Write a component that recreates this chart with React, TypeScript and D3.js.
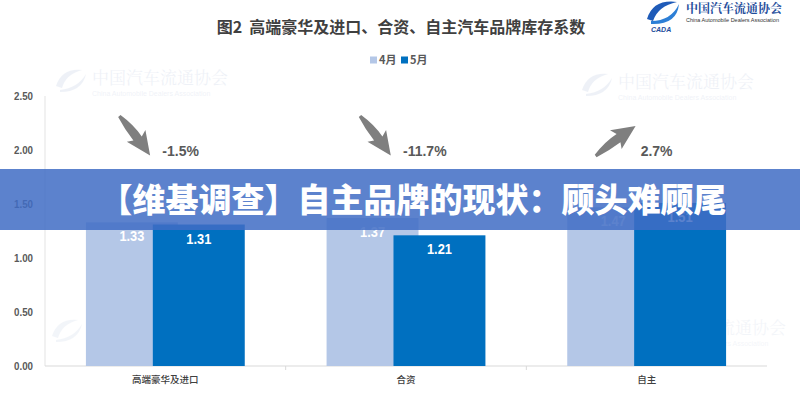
import React from "react";
import * as d3 from "d3";

const categories = ["高端豪华及进口", "合资", "自主"];
const seriesNames = ["4月", "5月"];
const april = [1.33, 1.37, 1.47];
const may = [1.31, 1.21, 1.51];
const changes = ["-1.5%", "-11.7%", "2.7%"];
const yTicks = [0, 0.5, 1, 1.5, 2, 2.5];

const W = 800;
const H = 400;
const colors = ["#b4c7e7", "#0070c0"];
const numFont = "'Liberation Sans Narrow', 'Liberation Sans', Arial, sans-serif";
const cjkFont = "'Noto Sans CJK SC', 'Noto Sans', sans-serif";

// arrow shape pointing along +x, length ~50
const arrowPath =
  "M0,-1.5 Q16,-6 30,-5 L27,-12 L50,0 L25,10 L28,4 Q14,4 0,1.5 Z";

function Watermark({ x, y, op = 0.07 }: { x: number; y: number; op?: number }) {
  return (
    <g transform={`translate(${x},${y})`} opacity={op}>
      <path d="M4,18 Q10,0 30,2 Q14,6 10,20 Z" fill="#1f4e9c" />
      <path d="M8,22 Q26,20 34,6 Q30,24 8,24 Z" fill="#1f4e9c" />
      <text x={40} y={16} fontFamily="'Noto Serif CJK SC', serif" fontSize={17} fill="#1f4e9c">
        中国汽车流通协会
      </text>
      <text x={40} y={28} fontFamily="Arial, sans-serif" fontSize={7} fill="#1f4e9c">
        China Automobile Dealers Association
      </text>
    </g>
  );
}

export default function App() {
  const margin = { left: 45, right: 33, top: 96, bottom: 34 };
  const x = d3
    .scaleBand<string>()
    .domain(categories)
    .range([margin.left, W - margin.right])
    .padding(0);
  const y = d3.scaleLinear().domain([0, 2.5]).range([H - margin.bottom, margin.top]);

  const bw = x.bandwidth() * 0.382;
  const off = x.bandwidth() * 0.139;
  const series = [april, may];

  return (
    <div style={{ position: "fixed", left: 0, top: 0, width: W, height: H, background: "#fff" }}>
      <svg width={W} height={H} viewBox={`0 0 ${W} ${H}`} style={{ display: "block" }}>
        <rect width={W} height={H} fill="#fff" />

        {/* faint watermarks */}
        <Watermark x={52} y={68} />
        <Watermark x={578} y={72} />
        <Watermark x={48} y={318} op={0.05} />
        <Watermark x={610} y={318} op={0.05} />

        {/* top-right logo */}
        <g transform="translate(645,1)">
          <path d="M2,18 Q8,-2 32,1 Q13,5 8,20 Z" fill="#1f5bb8" />
          <path d="M6,20 Q26,20 34,3 Q32,24 6,23 Z" fill="#2d7fd6" />
          <text x={6} y={31} fontFamily="Arial" fontStyle="italic" fontWeight={700} fontSize={7} fill="#1f4e9c">
            CADA
          </text>
          <text x={41} y={12} fontFamily="'Noto Serif CJK SC', serif" fontWeight={700} fontSize={12} fill="#1f4e9c">
            中国汽车流通协会
          </text>
          <text x={41} y={21} fontFamily="Arial" fontSize={5.5} fill="#333">
            China Automobile Dealers Association
          </text>
        </g>

        {/* title */}
        <text x={401} y={33} textAnchor="middle" fontFamily={cjkFont} fontWeight={700} fontSize={16} fill="#404040" style={{ whiteSpace: "pre" }}>
          {"图2  高端豪华及进口、合资、自主汽车品牌库存系数"}
        </text>

        {/* legend */}
        {seriesNames.map((s, i) => (
          <g key={s} transform={`translate(${370 + i * 31},60)`}>
            <rect x={0} y={-3.5} width={7} height={7} fill={colors[i]} />
            <text x={9} y={4} fontFamily={cjkFont} fontWeight={700} fontSize={11} fill="#595959">
              {s}
            </text>
          </g>
        ))}

        {/* axes */}
        <line x1={margin.left} x2={margin.left} y1={y(2.5)} y2={y(0)} stroke="#e3e3e3" />
        <line x1={margin.left} x2={W - margin.right} y1={y(0)} y2={y(0)} stroke="#d9d9d9" />
        {categories.slice(1).map((c) => (
          <line key={c} x1={x(c)!} x2={x(c)!} y1={y(0)} y2={y(0) + 4} stroke="#d9d9d9" />
        ))}
        {yTicks.map((t) => (
          <text key={t} x={33} y={y(t) + 4} textAnchor="end" fontFamily={numFont} fontWeight={700} fontSize={10.5} fill="#595959" textLength={19} lengthAdjust="spacingAndGlyphs">
            {d3.format(".2f")(t)}
          </text>
        ))}
        {categories.map((c) => (
          <text key={c} x={x(c)! + x.bandwidth() / 2} y={383} textAnchor="middle" fontFamily={cjkFont} fontWeight={500} fontSize={9.5} fill="#404040">
            {c}
          </text>
        ))}

        {/* bars */}
        {series.map((vals, si) =>
          categories.map((c, ci) => {
            const cx = x(c)! + x.bandwidth() / 2 + (si === 0 ? -off : off);
            return (
              <g key={`${si}-${c}`}>
                <rect x={cx - bw / 2} y={y(vals[ci])} width={bw} height={y(0) - y(vals[ci])} fill={colors[si]} />
                <text x={cx} y={y(vals[ci]) + 19} textAnchor="middle" fontFamily={numFont} fontWeight={700} fontSize={14} fill="#fff" textLength={25} lengthAdjust="spacingAndGlyphs">
                  {d3.format(".2f")(vals[ci])}
                </text>
              </g>
            );
          })
        )}

        {/* change arrows */}
        {categories.map((c, i) => {
          const cx = x(c)! + x.bandwidth() / 2;
          const up = !changes[i].startsWith("-");
          const tx = up ? cx - 51 : cx - 46;
          const ty = up ? 156 : 116;
          const ang = up ? -37 : 52;
          return (
            <g key={c}>
              <path d={arrowPath} transform={`translate(${tx},${ty}) rotate(${ang})`} fill="#7f7f7f" />
              <text x={up ? cx - 6 : cx - 3} y={156} fontFamily={numFont} fontWeight={700} fontSize={14} fill="#595959">
                {changes[i]}
              </text>
            </g>
          );
        })}

        {/* overlay banner */}
        <rect x={0} y={169} width={W} height={61} fill="#3f6cc4" opacity={0.85} />
        <text x={413} y={212} textAnchor="middle" fontFamily={cjkFont} fontWeight={900} fontSize={33} fill="#fff">
          【维基调查】自主品牌的现状：顾头难顾尾
        </text>
      </svg>
    </div>
  );
}
